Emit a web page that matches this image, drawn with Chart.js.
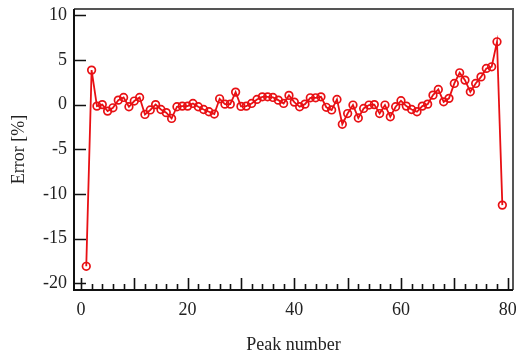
<!DOCTYPE html>
<html>
<head>
<meta charset="utf-8">
<script src="https://cdn.jsdelivr.net/npm/chart.js@4/dist/chart.umd.min.js"></script>
<style>
  html, body { margin: 0; padding: 0; background: #fff; }
  #wrap { width: 516px; height: 357px; }
</style>
</head>
<body>
<div id="wrap"><canvas id="chart"></canvas></div>
<script>
// data
const peakNumbers = [1, 2, 3, 4, 5, 6, 7, 8, 9, 10, 11, 12, 13, 14, 15, 16, 17, 18, 19, 20,
  21, 22, 23, 24, 25, 26, 27, 28, 29, 30, 31, 32, 33, 34, 35, 36, 37, 38, 39, 40,
  41, 42, 43, 44, 45, 46, 47, 48, 49, 50, 51, 52, 53, 54, 55, 56, 57, 58, 59, 60,
  61, 62, 63, 64, 65, 66, 67, 68, 69, 70, 71, 72, 73, 74, 75, 76, 77, 78, 79];
const errorPct = [-18.1, 3.86, -0.17, 0.0, -0.73, -0.36, 0.5, 0.8, -0.24, 0.4,
  0.8, -1.1, -0.6, 0.0, -0.55, -0.9, -1.55, -0.24, -0.17, -0.17,
  0.13, -0.24, -0.55, -0.8, -1.06, 0.65, 0.05, 0.05, 1.4, -0.2,
  -0.17, 0.13, 0.58, 0.87, 0.87, 0.8, 0.5, 0.13, 1.03, 0.28,
  -0.24, 0.05, 0.76, 0.76, 0.87, -0.3, -0.6, 0.58, -2.2, -1.0,
  -0.05, -1.5, -0.43, -0.05, 0.0, -1.0, -0.05, -1.36, -0.24, 0.43,
  -0.17, -0.55, -0.8, -0.17, 0.05, 1.06, 1.7, 0.31, 0.7, 2.37,
  3.56, 2.74, 1.43, 2.37, 3.1, 4.05, 4.23, 7.03, -11.25];
const xTickLabels = [0, 20, 40, 60, 80];
const yTickLabels = [10, 5, 0, -5, -10, -15, -20];

const font = { family: "'Liberation Serif', 'Times New Roman', serif", size: 18 };
const textColor = '#222';

// inward ticks + frame, drawn with the chart's own scales
const framePlugin = {
  id: 'frame',
  afterDraw(chart) {
    const { ctx, chartArea: a, scales } = chart;
    const xs = scales.x, ys = scales.y;
    ctx.save();
    ctx.strokeStyle = '#111';
    ctx.lineWidth = 1.6;
    ctx.beginPath();
    yTickLabels.forEach(v => {
      const py = Math.round(ys.getPixelForValue(v)) + 0.5;
      ctx.moveTo(a.left, py);
      ctx.lineTo(a.left + 12, py);
    });
    for (let v = 0; v <= 80; v += 2) {
      const px = Math.round(xs.getPixelForValue(v)) + 0.5;
      const len = v % 10 === 0 ? 12 : 6;
      ctx.moveTo(px, a.bottom);
      ctx.lineTo(px, a.bottom - len);
    }
    ctx.stroke();
    // box
    ctx.lineWidth = 2;
    ctx.strokeStyle = '#555';
    ctx.beginPath();
    ctx.moveTo(a.left, a.top);
    ctx.lineTo(a.right, a.top);
    ctx.lineTo(a.right, a.bottom);
    ctx.stroke();
    ctx.strokeStyle = '#111';
    ctx.beginPath();
    ctx.moveTo(a.left, a.top);
    ctx.lineTo(a.left, a.bottom);
    ctx.lineTo(a.right, a.bottom);
    ctx.stroke();
    ctx.restore();
  }
};

const canvas = document.getElementById('chart');
new Chart(canvas.getContext('2d'), {
  type: 'line',
  data: {
    datasets: [{
      data: peakNumbers.map((p, i) => ({ x: p, y: errorPct[i] })),
      borderColor: 'rgb(232, 16, 20)',
      borderWidth: 1.8,
      pointRadius: 3.8,
      pointBorderWidth: 1.7,
      pointBorderColor: 'rgb(232, 16, 20)',
      pointBackgroundColor: 'rgba(0,0,0,0)',
      tension: 0,
      clip: false
    }]
  },
  options: {
    responsive: true,
    maintainAspectRatio: false,
    animation: false,
    layout: { autoPadding: false, padding: { top: 9, right: 3, left: 0, bottom: 0 } },
    plugins: { legend: { display: false }, tooltip: { enabled: false } },
    scales: {
      x: {
        type: 'linear',
        min: -1.3,
        max: 81,
        afterBuildTicks: s => { s.ticks = xTickLabels.map(v => ({ value: v })); },
        afterFit: s => { s.height = 67; s.paddingLeft = 0; s.paddingRight = 0; },
        grid: { display: false, drawTicks: false },
        border: { display: false },
        ticks: { font, color: textColor, padding: 9, maxRotation: 0, autoSkip: false },
        title: { display: true, text: 'Peak number', font, color: textColor, padding: { top: 0, bottom: 1 } }
      },
      y: {
        min: -20.75,
        max: 10.7,
        afterBuildTicks: s => { s.ticks = yTickLabels.map(v => ({ value: v })); },
        afterFit: s => { s.width = 74; s.paddingTop = 0; s.paddingBottom = 0; },
        grid: { display: false, drawTicks: false },
        border: { display: false },
        ticks: { font, color: textColor, padding: 7, autoSkip: false },
        title: { display: true, text: 'Error [%]', font, color: textColor, padding: { top: 8, bottom: 0 } }
      }
    }
  },
  plugins: [framePlugin]
});
</script>
</body>
</html>
